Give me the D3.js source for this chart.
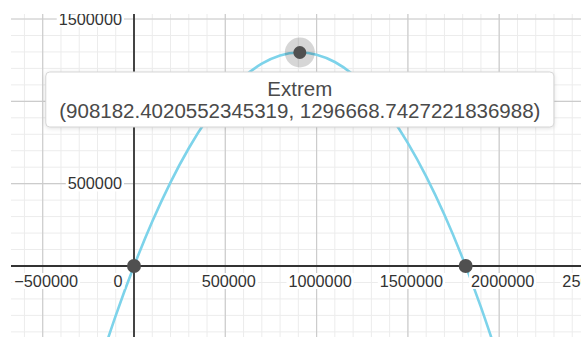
<!DOCTYPE html>
<html>
<head>
<meta charset="utf-8">
<script src="https://cdn.jsdelivr.net/npm/d3@7"></script>
<style>
  html, body { margin: 0; padding: 0; background: #fff; }
  svg { display: block; }
  text { font-family: "Liberation Sans", Arial, Helvetica, sans-serif; }
</style>
</head>
<body>
<svg id="chart" width="581" height="337"></svg>
<script>
// ---- data ----
const xTickValues = [-500000, 0, 500000, 1000000, 1500000, 2000000, 2500000];
const xTickLabels = ["\u2212500000", "0", "500000", "1000000", "1500000", "2000000", "2500000"];
const yTickValues = [500000, 1000000, 1500000];
const yTickLabels = ["500000", "1000000", "1500000"];

// curve samples (x, y) read along the plotted parabola
const curveX = [-200000, -100000, 0, 100000, 200000, 300000, 400000, 500000, 600000, 700000, 800000,
                900000, 1000000, 1100000, 1200000, 1300000, 1400000, 1500000, 1600000, 1700000, 1800000,
                1900000, 2000000];
const curveY = [-633989, -301274, 0, 269831, 508221, 715167, 890672, 1034735, 1147355, 1228533, 1278270,
                1296563, 1283415, 1238824, 1162792, 1055316, 916400, 746040, 544239, 310995, 46309,
                -249819, -577389];

// marked points: roots and extremum
const rootX = [0, 1816364.804];
const rootY = [0, 0];
const extremX = 908182.4020552345319;
const extremY = 1296668.7427221836988;
const extremLabel = "Extrem";
const extremText = "(908182.4020552345319, 1296668.7427221836988)";

// ---- layout ----
const W = 581, H = 337;
const plotLeft = 11, plotTop = 14;
const svg = d3.select("#chart");

const x = d3.scaleLinear().domain([-673600, 2448000]).range([plotLeft, W]);
const y = d3.scaleLinear().domain([-431200, 1530400]).range([H, plotTop]);

svg.append("defs").append("clipPath").attr("id", "plotClip")
  .append("rect").attr("x", plotLeft).attr("y", plotTop)
  .attr("width", W - plotLeft).attr("height", H - plotTop);

const plot = svg.append("g").attr("clip-path", "url(#plotClip)");

// minor grid
const minorX = d3.range(-700000, 2600001, 100000);
const minorY = d3.range(-500000, 1600001, 100000);
plot.append("g").selectAll("line").data(minorX).join("line")
  .attr("x1", d => x(d)).attr("x2", d => x(d))
  .attr("y1", plotTop).attr("y2", H)
  .attr("stroke", "#ececec").attr("stroke-width", 1);
plot.append("g").selectAll("line").data(minorY).join("line")
  .attr("y1", d => y(d)).attr("y2", d => y(d))
  .attr("x1", plotLeft).attr("x2", W)
  .attr("stroke", "#ececec").attr("stroke-width", 1);

// major grid
const majorX = d3.range(-500000, 2600001, 500000);
const majorY = d3.range(-500000, 1600001, 500000);
plot.append("g").selectAll("line").data(majorX).join("line")
  .attr("x1", d => x(d)).attr("x2", d => x(d))
  .attr("y1", plotTop).attr("y2", H)
  .attr("stroke", "#cccccc").attr("stroke-width", 1.2);
plot.append("g").selectAll("line").data(majorY).join("line")
  .attr("y1", d => y(d)).attr("y2", d => y(d))
  .attr("x1", plotLeft).attr("x2", W)
  .attr("stroke", "#cccccc").attr("stroke-width", 1.2);

// axes lines
plot.append("line").attr("x1", plotLeft).attr("x2", W)
  .attr("y1", y(0)).attr("y2", y(0))
  .attr("stroke", "#333").attr("stroke-width", 1.8);
plot.append("line").attr("x1", x(0)).attr("x2", x(0))
  .attr("y1", plotTop).attr("y2", H)
  .attr("stroke", "#333").attr("stroke-width", 1.8);

// tick labels with white backgrounds
const labelFont = 16.25;
const labelG = svg.append("g").attr("clip-path", "url(#plotClip)");
function addLabel(tx, ty, str, anchor) {
  const g = labelG.append("g");
  const bg = g.append("rect").attr("fill", "#fff");
  const t = g.append("text").attr("x", tx).attr("y", ty)
    .attr("text-anchor", anchor).attr("font-size", labelFont)
    .attr("fill", "#333").text(str);
  const bb = t.node().getBBox();
  bg.attr("x", bb.x - 2).attr("y", bb.y + 1).attr("width", bb.width + 4).attr("height", bb.height - 2);
}
xTickValues.forEach((v, i) => {
  if (v === 0) {
    addLabel(x(0) - 11.5, y(0) + 21, xTickLabels[i], "end");
  } else {
    addLabel(x(v) + 3.5, y(0) + 21, xTickLabels[i], "middle");
  }
});
yTickValues.forEach((v, i) => {
  addLabel(x(0) - 12, y(v) + 5.8, yTickLabels[i], "end");
});

// curve
const pts = curveX.map((d, i) => [d, curveY[i]]);
const line = d3.line().x(d => x(d[0])).y(d => y(d[1])).curve(d3.curveNatural);
plot.append("path").datum(pts).attr("d", line)
  .attr("fill", "none").attr("stroke", "#7dd3ea").attr("stroke-width", 2.6);

// extremum halo + points
plot.append("circle").attr("cx", x(extremX)).attr("cy", y(extremY)).attr("r", 15)
  .attr("fill", "rgba(0,0,0,0.16)");
plot.append("circle").attr("cx", x(extremX)).attr("cy", y(extremY)).attr("r", 6.5)
  .attr("fill", "#505050");
plot.append("g").selectAll("circle").data(rootX).join("circle")
  .attr("cx", d => x(d)).attr("cy", (d, i) => y(rootY[i])).attr("r", 7)
  .attr("fill", "#505050");

// tooltip
const tipG = svg.append("g");
const tipCx = x(extremX);
const tipTop = y(extremY) + 19.5;
const tipRect = tipG.append("rect").attr("fill", "#fff")
  .attr("stroke", "#d6d6d6").attr("stroke-width", 1).attr("rx", 4)
  .style("filter", "drop-shadow(0px 1px 2px rgba(0,0,0,0.12))");
const t1 = tipG.append("text").attr("x", tipCx).attr("y", tipTop + 24)
  .attr("text-anchor", "middle").attr("font-size", 20.5).attr("fill", "#4a4a4a").text(extremLabel);
const t2 = tipG.append("text").attr("x", tipCx).attr("y", tipTop + 46.3)
  .attr("text-anchor", "middle").attr("font-size", 20.5).attr("fill", "#4a4a4a").text(extremText);
const w2 = t2.node().getBBox().width;
const boxW = w2 + 27;
tipRect.attr("x", tipCx - boxW / 2).attr("y", tipTop).attr("width", boxW).attr("height", 55);
</script>
</body>
</html>
